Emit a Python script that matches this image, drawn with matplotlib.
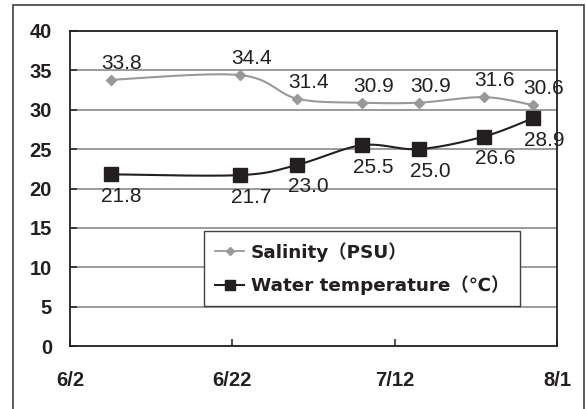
import numpy as np
import pandas as pd
import matplotlib
matplotlib.use("Agg")
import matplotlib.pyplot as plt
import matplotlib.dates as mdates
from matplotlib.patches import Rectangle

# sampling dates and measured values
dates = ["2000-06-07", "2000-06-23", "2000-06-30", "2000-07-08",
         "2000-07-15", "2000-07-23", "2000-07-29"]
salinity = [33.8, 34.4, 31.4, 30.9, 30.9, 31.6, 30.6]
water_temp = [21.8, 21.7, 23.0, 25.5, 25.0, 26.6, 28.9]
tick_dates = ["2000-06-02", "2000-06-22", "2000-07-12", "2000-08-01"]
tick_labels = ["6/2", "6/22", "7/12", "8/1"]

x = mdates.date2num(pd.to_datetime(dates))
xticks = mdates.date2num(pd.to_datetime(tick_dates))


def smooth(xs, ys, n=30):
    # Excel-style smoothed line (Catmull-Rom as cubic Bezier)
    xs, ys = np.asarray(xs, float), np.asarray(ys, float)
    px, py = [], []
    t = np.linspace(0, 1, n)
    for i in range(len(xs) - 1):
        i0, i3 = max(i - 1, 0), min(i + 2, len(xs) - 1)
        p0 = np.array([xs[i], ys[i]])
        p3 = np.array([xs[i + 1], ys[i + 1]])
        c1 = p0 + (p3 - np.array([xs[i0], ys[i0]])) / 6
        c2 = p3 - (np.array([xs[i3], ys[i3]]) - p0) / 6
        b = ((1 - t) ** 3)[:, None] * p0 + (3 * (1 - t) ** 2 * t)[:, None] * c1 \
            + (3 * (1 - t) * t ** 2)[:, None] * c2 + (t ** 3)[:, None] * p3
        px.extend(b[:, 0])
        py.extend(b[:, 1])
    return px, py


fig = plt.figure(figsize=(5.86, 4.09), dpi=100)
fig.patches.append(Rectangle((13 / 586, -0.1), (584 - 13) / 586, 1.1 - 5 / 409,
                             transform=fig.transFigure, fill=False,
                             edgecolor="#404040", linewidth=1.2))
ax = fig.add_axes([70 / 586, (409 - 346) / 409, 487 / 586, 315 / 409])

for v in range(5, 40, 5):
    ax.axhline(v, color="#808080", linewidth=1.1, zorder=1)

sx, sy = smooth(x, salinity)
ax.plot(sx, sy, color="#999999", linewidth=1.5, zorder=2)
ax.plot(x, salinity, linestyle="none", marker="D", markersize=5,
        color="#999999", zorder=3)
tx, ty = smooth(x, water_temp)
ax.plot(tx, ty, color="#231f20", linewidth=1.5, zorder=2)
ax.plot(x, water_temp, linestyle="none", marker="s", markersize=9.5,
        color="#231f20", zorder=3)

# legend handles
ax.plot([], [], color="#999999", linewidth=1.3, marker="D", markersize=4,
        label="Salinity（PSU）")
ax.plot([], [], color="#231f20", linewidth=1.5, marker="s", markersize=7.5,
        label="Water temperature（℃）")

lab_font = dict(family=["Liberation Sans", "DejaVu Sans"], size=15, color="#231f20")
for xi, v in zip(x, salinity):
    ax.annotate(f"{v:.1f}", (xi, v), xytext=(8, 5), textcoords="offset points",
                ha="center", va="bottom", **lab_font)
for xi, v in zip(x, water_temp):
    ax.annotate(f"{v:.1f}", (xi, v), xytext=(8, -9), textcoords="offset points",
                ha="center", va="top", **lab_font)

ax.set_xlim(xticks[0], xticks[-1])
ax.set_ylim(0, 40)
ax.set_yticks(range(0, 41, 5))
ax.set_xticks(xticks)
ax.set_xticklabels(tick_labels)
ax.tick_params(axis="both", direction="in", length=5, width=1.1, colors="#231f20")
ax.tick_params(axis="y", pad=13)
ax.tick_params(axis="x", pad=18)
for lbl in ax.get_xticklabels() + ax.get_yticklabels():
    lbl.set_fontweight("bold")
    lbl.set_fontsize(14.5)
    lbl.set_family(["Liberation Sans", "DejaVu Sans"])
for s in ax.spines.values():
    s.set_color("#231f20")
    s.set_linewidth(1.3)

leg = ax.legend(loc="lower left", bbox_to_anchor=(134 / 487, (346 - 306) / 315),
                frameon=True, fancybox=False, framealpha=1, edgecolor="#404040",
                handlelength=1.6, handletextpad=0.35, borderpad=0.6,
                labelspacing=0.75, borderaxespad=0,
                prop=dict(family=["DejaVu Sans", "Noto Sans CJK JP"],
                          weight="bold", size=13.2))
leg.get_frame().set_linewidth(1.0)
leg.set_zorder(5)
for t in leg.get_texts():
    t.set_color("#231f20")

fig.savefig("out.png", dpi=100)
